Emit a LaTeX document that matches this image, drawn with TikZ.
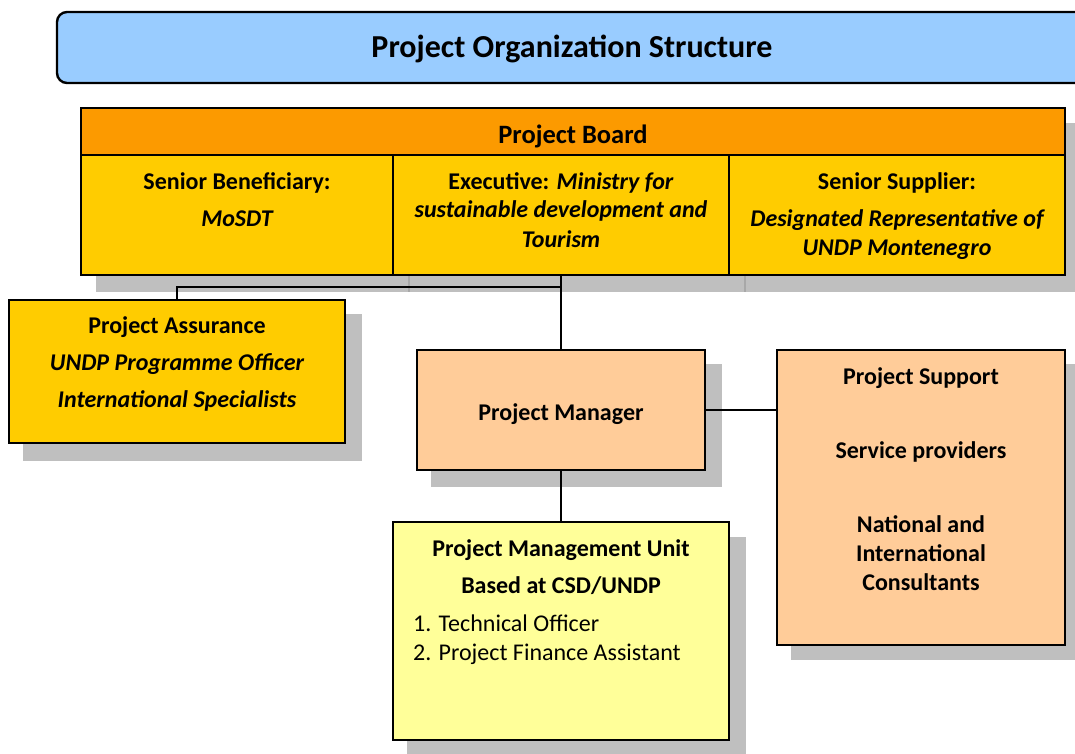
\documentclass[tikz,border=0pt]{standalone}
\usepackage{fontspec}
\setmainfont{Carlito}
\usetikzlibrary{calc,backgrounds}
\definecolor{titleblue}{RGB}{153,204,255}
\definecolor{boardorange}{RGB}{252,154,0}
\definecolor{cellgold}{RGB}{255,204,0}
\definecolor{peach}{RGB}{255,204,153}
\definecolor{paleyellow}{RGB}{255,255,153}
\definecolor{shadowgray}{RGB}{191,191,191}
\definecolor{shadowedge}{RGB}{168,168,168}

\begin{document}
\begin{tikzpicture}[x=1pt,y=-1pt,
  box/.style={draw=black, line width=2.4pt, anchor=north west, inner sep=0pt, outer sep=0pt},
  lbl/.style={anchor=base, inner sep=0pt, font=\fontsize{24}{29}\selectfont\bfseries},
  lbli/.style={lbl, font=\fontsize{24}{29}\selectfont\bfseries\itshape},
  item/.style={anchor=base west, inner sep=0pt, font=\fontsize{24}{29}\selectfont},
  link/.style={draw=black, line width=1.6pt},
  boxshadow/.style={fill=shadowgray},
]
\useasboundingbox (0,0) rectangle (1075,753);
\clip (0,0) rectangle (1075,753);

% title banner
\node[box, fill=titleblue, rounded corners=10pt, minimum width=1040pt, minimum height=71pt] (banner) at (57,12) {};
\node[lbl, font=\fontsize{32}{38}\selectfont\bfseries] (title) at (572,57) {Project Organization Structure};

% project board: header row and three member cells
\node[box, fill=boardorange, minimum width=984pt, minimum height=47pt] (board) at (81,108) {};
\node[box, fill=cellgold, minimum width=312pt, minimum height=120pt] (sb) at (81,155) {};
\node[box, fill=cellgold, minimum width=336pt, minimum height=120pt] (ex) at (393,155) {};
\node[box, fill=cellgold, minimum width=336pt, minimum height=120pt] (ss) at (729,155) {};

\node[lbl, font=\fontsize{26.5}{32}\selectfont\bfseries] (board-t) at (573,143) {Project Board};
\node[lbl] (sb-t1) at (237,189) {Senior Beneficiary:};
\node[lbli] (sb-t2) at (237,226) {MoSDT};
\node[lbl] (ex-t1) at (561,189) {Executive: \textit{Ministry for}};
\node[lbli] (ex-t2) at (561,217) {sustainable development and};
\node[lbli] (ex-t3) at (561,247) {Tourism};
\node[lbl] (ss-t1) at (897,189) {Senior Supplier:};
\node[lbli] (ss-t2) at (897,226) {Designated Representative of};
\node[lbli] (ss-t3) at (897,255) {UNDP Montenegro};

% project assurance
\node[box, fill=cellgold, minimum width=336pt, minimum height=143pt] (pa) at (9,300) {};
\node[lbl] (pa-t1) at (177,333) {Project Assurance};
\node[lbli] (pa-t2) at (177,370) {UNDP Programme Officer};
\node[lbli] (pa-t3) at (177,407) {International Specialists};

% project manager
\node[box, fill=peach, minimum width=288pt, minimum height=120pt] (pm) at (417,350) {};
\node[lbl] (pm-t) at (561,420) {Project Manager};

% project support
\node[box, fill=peach, minimum width=288pt, minimum height=295pt] (ps) at (777,350) {};
\node[lbl] (ps-t1) at (921,384) {Project Support};
\node[lbl] (ps-t2) at (921,458) {Service providers};
\node[lbl] (ps-t3) at (921,532) {National and};
\node[lbl] (ps-t4) at (921,561) {International};
\node[lbl] (ps-t5) at (921,590) {Consultants};

% project management unit
\node[box, fill=paleyellow, minimum width=336pt, minimum height=218pt] (pmu) at (393,522) {};
\node[lbl] (pmu-t1) at (561,556) {Project Management Unit};
\node[lbl] (pmu-t2) at (561,593) {Based at CSD/UNDP};
\node[item] (pmu-i1) at (413,631) {1. Technical Officer};
\node[item] (pmu-i2) at (413,660) {2. Project Finance Assistant};

% drop shadows behind the boxes
\begin{scope}[on background layer]
  \fill[boxshadow] ($(board.north west)+(15,15)$) rectangle ($(ss.south east)+(16,17)$);
  \draw[shadowedge, line width=2pt] ($(ex.south west)+(16,0)$) -- ++(0,17);
  \draw[shadowedge, line width=2pt] ($(ss.south west)+(16,0)$) -- ++(0,17);
  \fill[boxshadow] ($(pa.north west)+(14,14)$) rectangle ($(pa.south east)+(17,18)$);
  \fill[boxshadow] ($(pm.north west)+(14,14)$) rectangle ($(pm.south east)+(17,17)$);
  \fill[boxshadow] ($(ps.north west)+(14,14)$) rectangle ($(ps.south east)+(17,15)$);
  \fill[boxshadow] ($(pmu.north west)+(14,15)$) rectangle ($(pmu.south east)+(17,15)$);
\end{scope}

% reporting lines
\coordinate (jn) at ($(ex.south)+(0,12)$);
\draw[link] (ex.south) -- (pm.north);
\draw[link] (pa.north) |- (jn);
\draw[link] (pm.east) -- (pm.east -| ps.west);
\draw[link] (pm.south) -- (pmu.north);
\end{tikzpicture}
\end{document}
